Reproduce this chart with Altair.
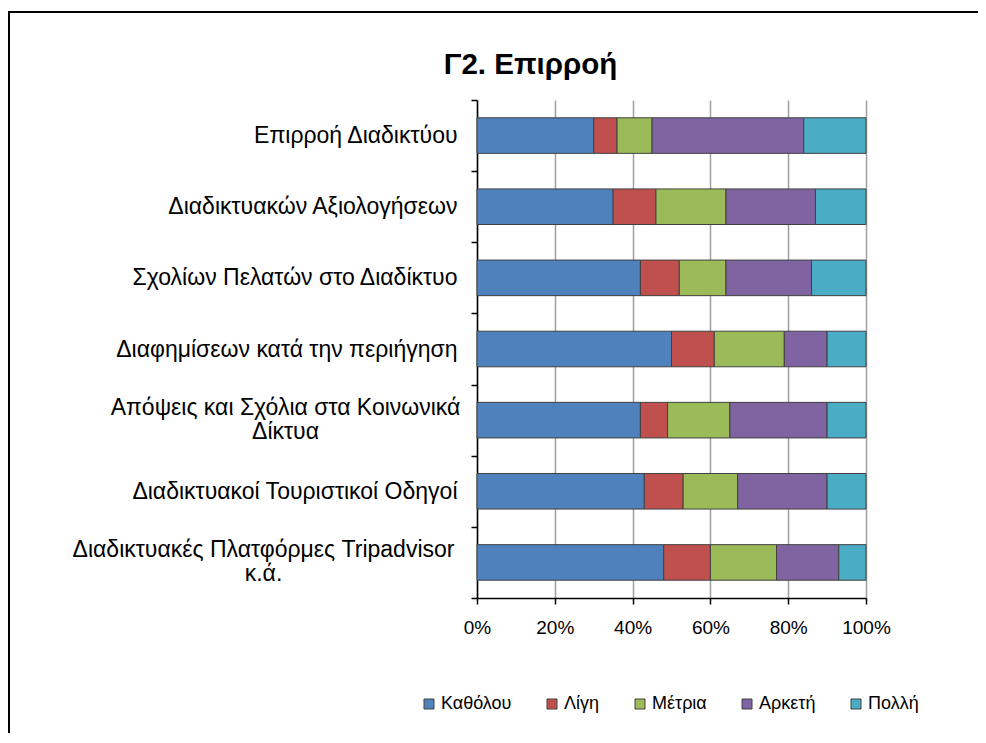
import json
import altair as alt
import pandas as pd

title_text = "Γ2. Επιρροή"
categories = [
    "Επιρροή Διαδικτύου",
    "Διαδικτυακών Αξιολογήσεων",
    "Σχολίων Πελατών στο Διαδίκτυο",
    "Διαφημίσεων κατά την περιήγηση",
    "Απόψεις και Σχόλια στα Κοινωνικά\nΔίκτυα",
    "Διαδικτυακοί Τουριστικοί Οδηγοί",
    "Διαδικτυακές Πλατφόρμες Tripadvisor\nκ.ά.",
]
series = ["Καθόλου", "Λίγη", "Μέτρια", "Αρκετή", "Πολλή"]
colors = ["#4F81BD", "#C0504D", "#9BBB59", "#8064A2", "#4BACC6"]

katholou = [30, 35, 42, 50, 42, 43, 48]
ligi = [6, 11, 10, 11, 7, 10, 12]
metria = [9, 18, 12, 18, 16, 14, 17]
arketi = [39, 23, 22, 11, 25, 23, 16]
polli = [16, 13, 14, 10, 10, 10, 7]
x_ticks = [0, 0.2, 0.4, 0.6, 0.8, 1.0]

values = [katholou, ligi, metria, arketi, polli]
rows = []
for si, (s, vals) in enumerate(zip(series, values)):
    for c, v in zip(categories, vals):
        rows.append({"cat": c, "series": s, "value": v, "ord": si})
df = pd.DataFrame(rows)

FONT = "Liberation Sans"

t1 = "datum.value === " + json.dumps(categories[4], ensure_ascii=False)
t2 = "datum.value === " + json.dumps(categories[6], ensure_ascii=False)

bars = alt.Chart(df).mark_bar(
    stroke="#404040", strokeWidth=1, height={"band": 0.5}
).encode(
    y=alt.Y(
        "cat:N",
        sort=categories,
        title=None,
        scale=alt.Scale(paddingInner=0, paddingOuter=0),
        axis=alt.Axis(
            labelExpr="split(datum.label, '\\n')",
            labelFont=FONT,
            labelFontSize=23,
            labelColor="#000000",
            labelLineHeight=24,
            labelLimit=500,
            labelAlign={"condition": {"test": t1 + " || " + t2, "value": "center"}, "value": "right"},
            labelPadding={"condition": [{"test": t1, "value": 186}, {"test": t2, "value": 208}], "value": 14},
            labelOffset={"condition": {"test": t1 + " || " + t2, "value": -13}, "value": 0},
            tickBand="extent",
            tickSize=6,
            tickColor="#000000",
            domainColor="#000000",
            domainWidth=1.5,
            tickWidth=1.5,
            grid=False,
        ),
    ),
    x=alt.X(
        "value:Q",
        stack="normalize",
        title=None,
        scale=alt.Scale(domain=[0, 1], nice=False),
        axis=alt.Axis(
            values=x_ticks,
            format=".0%",
            labelFont=FONT,
            labelFontSize=19,
            labelColor="#000000",
            labelPadding=14,
            labelFlush=False,
            tickSize=6,
            tickColor="#000000",
            tickWidth=1.5,
            domainColor="#000000",
            domainWidth=1.5,
            gridColor="#A0A0A0",
            gridWidth=1.5,
        ),
    ),
    color=alt.Color(
        "series:N",
        sort=series,
        scale=alt.Scale(domain=series, range=colors),
        legend=alt.Legend(
            title=None,
            orient="none",
            direction="horizontal",
            legendX=-57,
            legendY=595,
            symbolType="square",
            symbolSize=100,
            symbolStrokeColor="#404040",
            symbolStrokeWidth=1,
            labelFont=FONT,
            labelFontSize=18,
            labelColor="#000000",
            labelOffset=3,
            columnPadding=31,
        ),
    ),
    order=alt.Order("ord:Q"),
)

frame = alt.Chart(pd.DataFrame({"a": [0]})).mark_rect(
    fill=None, stroke="#000000", strokeWidth=2
).encode(
    x=alt.value(-468), x2=alt.value(620), y=alt.value(-88), y2=alt.value(720)
)

title = alt.Chart(pd.DataFrame({"t": [title_text]})).mark_text(
    font=FONT, fontSize=29.5, fontWeight="bold", align="center", baseline="alphabetic", color="#000000"
).encode(text="t:N", x=alt.value(53.5), y=alt.value(-26))

chart = alt.layer(frame, bars, title).properties(
    width=389,
    height=498,
    autosize=alt.AutoSizeParams(type="none"),
    padding={"left": 469, "top": 92, "right": 112, "bottom": 135},
).configure_view(stroke=None)

chart.save("out.html", embed_options={"renderer": "svg", "actions": False})
